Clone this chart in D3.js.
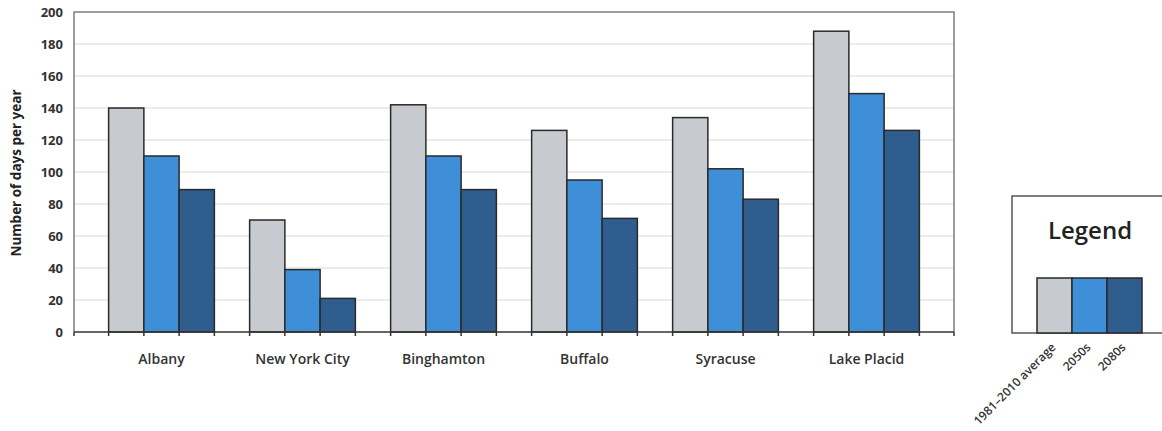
<!DOCTYPE html>
<html>
<head>
<meta charset="utf-8">
<script src="https://cdn.jsdelivr.net/npm/d3@7"></script>
<style>
  html, body { margin: 0; padding: 0; background: #fff; }
  svg { display: block; font-family: "Open Sans", Lato, sans-serif; }
</style>
</head>
<body>
<svg id="chart" width="1162" height="431"></svg>
<script>
// Cities and the number of days per year for each period
const cities = ["Albany", "New York City", "Binghamton", "Buffalo", "Syracuse", "Lake Placid"];
const seriesNames = ["1981\u20132010 average", "2050s", "2080s"];
const baseline = [140, 70, 142, 126, 134, 188];
const mid2050s = [110, 39, 110, 95, 102, 149];
const late2080s = [89, 21, 89, 71, 83, 126];
const yTicks = [0, 20, 40, 60, 80, 100, 120, 140, 160, 180, 200];
const colors = ["#c7cbcf", "#3f8fd8", "#2f5e8e"];

const seriesValues = [baseline, mid2050s, late2080s];
const svg = d3.select("#chart");

const plot = { left: 74, right: 954, top: 12, bottom: 332 };

const x = d3.scaleBand().domain(cities)
  .range([plot.left, plot.right])
  .paddingInner(0.25).paddingOuter(0.2455);
const xs = d3.scaleBand().domain(seriesNames).range([0, x.bandwidth()]);
const y = d3.scaleLinear().domain([0, 200]).range([plot.bottom, plot.top]);

// horizontal gridlines
svg.append("g").selectAll("line").data(yTicks.filter(t => t > 0 && t < 200)).join("line")
  .attr("x1", plot.left).attr("x2", plot.right)
  .attr("y1", d => y(d)).attr("y2", d => y(d))
  .attr("stroke", "#e6e6e6").attr("stroke-width", 1.5);

// frame: top, right and left sides
svg.append("path")
  .attr("d", `M${plot.left},${plot.bottom}V${plot.top}H${plot.right}V${plot.bottom}`)
  .attr("fill", "none").attr("stroke", "#7d7d7d").attr("stroke-width", 1.5);

// y axis labels
const yAxis = d3.axisLeft(y).tickValues(yTicks).tickSize(0).tickPadding(11);
const gy = svg.append("g").attr("transform", `translate(${plot.left},0)`).call(yAxis);
gy.select(".domain").remove();
gy.selectAll("text").attr("font-size", 13).attr("font-weight", 700)
  .attr("fill", "#333").attr("font-family", "'Open Sans', sans-serif");

// y axis title
svg.append("text")
  .attr("transform", `translate(21,${(plot.top + plot.bottom) / 2 + 1}) rotate(-90)`)
  .attr("text-anchor", "middle").attr("font-size", 13.5).attr("font-weight", 700)
  .attr("fill", "#222").text("Number of days per year");

// bars
const groups = svg.append("g").selectAll("g").data(cities).join("g")
  .attr("transform", d => `translate(${x(d)},0)`);
groups.selectAll("rect")
  .data((c, i) => seriesNames.map((s, k) => ({ s, k, v: seriesValues[k][i] })))
  .join("rect")
  .attr("x", d => xs(d.s)).attr("width", xs.bandwidth())
  .attr("y", d => y(d.v)).attr("height", d => y(0) - y(d.v))
  .attr("fill", d => colors[d.k])
  .attr("stroke", "#2a2a2a").attr("stroke-width", 1.5);

// baseline axis
svg.append("line")
  .attr("x1", plot.left).attr("x2", plot.right)
  .attr("y1", y(0)).attr("y2", y(0))
  .attr("stroke", "#333").attr("stroke-width", 1.6);

// tick marks at bar edges
const edgeTicks = [];
cities.forEach(c => {
  seriesNames.forEach(s => edgeTicks.push(x(c) + xs(s)));
  edgeTicks.push(x(c) + x.bandwidth());
});
edgeTicks.push(plot.left, plot.right);
svg.append("g").selectAll("line").data(edgeTicks).join("line")
  .attr("x1", d => d).attr("x2", d => d)
  .attr("y1", y(0)).attr("y2", y(0) + 4)
  .attr("stroke", "#333").attr("stroke-width", 1.5);

// category labels
svg.append("g").selectAll("text").data(cities).join("text")
  .attr("x", d => x(d) + x.bandwidth() / 2).attr("y", 364)
  .attr("text-anchor", "middle").attr("font-size", 14).attr("font-weight", 600)
  .attr("fill", "#333").text(d => d);

// legend
const lg = { left: 1012, top: 196, bottom: 333 };
svg.append("path")
  .attr("d", `M1170,${lg.top}H${lg.left}V${lg.bottom}H1170`)
  .attr("fill", "#fff").attr("stroke", "#555").attr("stroke-width", 1.5);
svg.append("text").attr("x", 1090).attr("y", 239)
  .attr("text-anchor", "middle").attr("font-size", 24).attr("font-weight", 600)
  .attr("fill", "#222").text("Legend");

const lx = d3.scaleBand().domain(seriesNames).range([1037, 1142]);
svg.append("g").selectAll("rect").data(seriesNames).join("rect")
  .attr("x", d => lx(d)).attr("width", lx.bandwidth())
  .attr("y", 278).attr("height", lg.bottom - 278)
  .attr("fill", (d, i) => colors[i])
  .attr("stroke", "#2a2a2a").attr("stroke-width", 1.5);

svg.append("g").selectAll("text").data(seriesNames).join("text")
  .attr("transform", d => `translate(${lx(d) + lx.bandwidth() / 2 + 2},${lg.bottom + 15}) rotate(-45)`)
  .attr("text-anchor", "end").attr("font-size", 12).attr("font-weight", 600)
  .attr("fill", "#333").text(d => d);
</script>
</body>
</html>
